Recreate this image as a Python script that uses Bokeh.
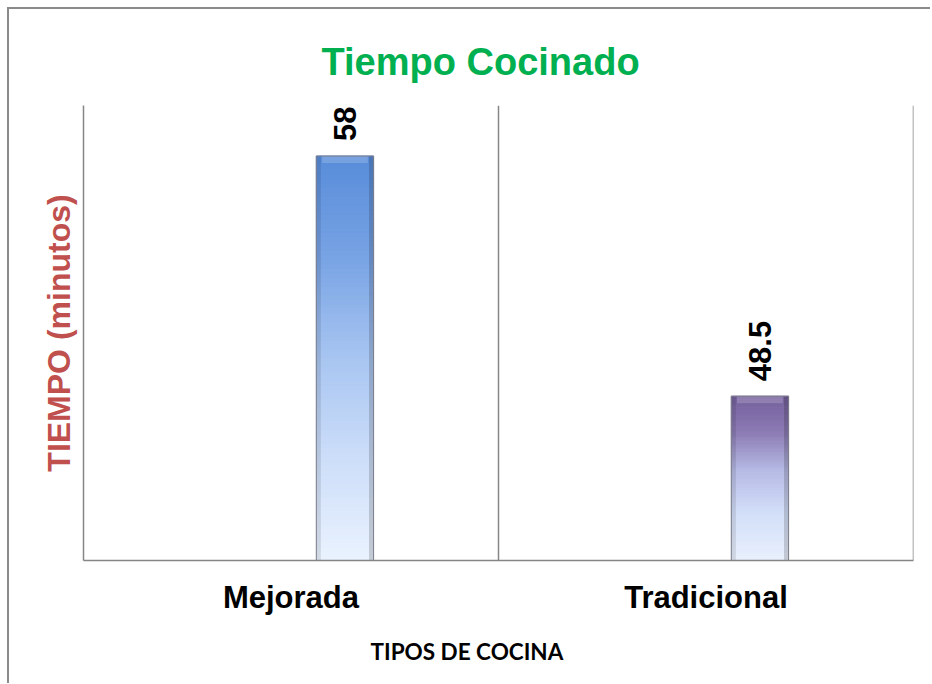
import numpy as np
from bokeh.plotting import figure
from bokeh.models import FactorRange, Range1d, ColumnDataSource, Span, Title, FixedTicker
from bokeh.transform import dodge
from bokeh.core.properties import value
from bokeh.embed import file_html
from bokeh.resources import INLINE

# ---- data ----
categories = ["Mejorada", "Tradicional"]
tiempos = [58, 48.5]
title_text = "Tiempo Cocinado"
x_title = "TIPOS DE COCINA"
y_title = "TIEMPO (minutos)"

# ---- layout / style ----
Y_MIN, Y_MAX = 42, 60
BAR_OFFSET = 0.13
BAR_WIDTH = 0.138
AXIS_GRAY = "#868686"
FRAME_H = 455
BEVEL = 7 * (Y_MAX - Y_MIN) / FRAME_H   # ~7px top highlight in data units

# gradient stops: (fraction from top of bar, rgb)
gradients = [
    [(0.0, (88, 141, 217)), (0.25, (120, 163, 228)), (0.5, (168, 197, 241)),
     (0.75, (205, 222, 249)), (1.0, (234, 242, 254))],
    [(0.0, (116, 96, 156)), (0.22, (140, 124, 180)), (0.45, (182, 186, 228)),
     (0.7, (210, 222, 248)), (1.0, (233, 240, 253))],
]


def interp(stops, f):
    for (f0, c0), (f1, c1) in zip(stops[:-1], stops[1:]):
        if f0 <= f <= f1:
            t = (f - f0) / (f1 - f0) if f1 > f0 else 0
            c = [int(round(a + (b - a) * t)) for a, b in zip(c0, c1)]
            return "#%02x%02x%02x" % tuple(c)
    return "#%02x%02x%02x" % stops[-1][1]


p = figure(
    x_range=FactorRange(*categories),
    y_range=Range1d(Y_MIN, Y_MAX),
    width=930, height=683,
    output_backend="svg", toolbar_location=None,
    min_border_left=83, min_border_right=17,
    min_border_top=105, min_border_bottom=123,
)
p.border_fill_color = None
# outer chart border on top and left (drawn as inset shadows behind the canvas)
p.styles = {"box-shadow": "inset 7px 7px 0 0 #ffffff, inset 9px 9px 0 0 #8a8a8a",
            "background-color": "#ffffff"}

# gradient segments
N = 90
seg_x, seg_b, seg_t, seg_c = [], [], [], []
for cat, v, stops in zip(categories, tiempos, gradients):
    edges = np.linspace(Y_MIN, v, N + 1)
    for i in range(N):
        f_top = 1 - (i + 0.5) / N
        seg_x.append(cat)
        seg_b.append(edges[i])
        seg_t.append(edges[i + 1])
        seg_c.append(interp(stops, f_top))
seg_src = ColumnDataSource(dict(x=seg_x, bottom=seg_b, top=seg_t, color=seg_c))
p.vbar(x=dodge("x", BAR_OFFSET, range=p.x_range), width=BAR_WIDTH,
       bottom="bottom", top="top", fill_color="color", line_color="color",
       line_width=1, source=seg_src)

bar_src = ColumnDataSource(dict(x=categories, top=tiempos,
                                bevel=[v - BEVEL for v in tiempos],
                                label=[f"{v:g}" for v in tiempos]))
# top highlight (bevel)
p.vbar(x=dodge("x", BAR_OFFSET, range=p.x_range), width=BAR_WIDTH * 0.8,
       bottom="bevel", top="top", fill_color="#ffffff", fill_alpha=0.18,
       line_color=None, source=bar_src)
# side shading (bevel)
SIDE_W = 0.011
p.vbar(x=dodge("x", BAR_OFFSET - BAR_WIDTH / 2 + SIDE_W / 2, range=p.x_range),
       width=SIDE_W, bottom=Y_MIN, top="top", fill_color="#000000",
       fill_alpha=0.10, line_color=None, source=bar_src)
p.vbar(x=dodge("x", BAR_OFFSET + BAR_WIDTH / 2 - SIDE_W / 2, range=p.x_range),
       width=SIDE_W, bottom=Y_MIN, top="top", fill_color="#000000",
       fill_alpha=0.16, line_color=None, source=bar_src)
# outline
p.vbar(x=dodge("x", BAR_OFFSET, range=p.x_range), width=BAR_WIDTH,
       bottom=Y_MIN, top="top", fill_alpha=0, line_color="#7c7c88",
       line_width=1, source=bar_src)

# value labels
p.text(x=dodge("x", BAR_OFFSET, range=p.x_range), y="top", text="label",
       angle=np.pi / 2, text_align="left", text_baseline="middle",
       y_offset=-15, text_font=value("Liberation Sans"),
       text_font_style="bold", text_font_size="31px", text_color="black",
       source=bar_src)

# category separators
for loc in (1, 2):
    p.add_layout(Span(location=loc, dimension="height",
                      line_color=AXIS_GRAY, line_width=1.5))

# title
p.title.text = title_text
p.title.align = "left"
p.title.offset = 238
p.title.standoff = 45
p.title.text_font = "Liberation Sans"
p.title.text_font_style = "bold"
p.title.text_font_size = "38px"
p.title.text_color = "#00B050"

# x axis title placed below the axis
p.add_layout(Title(text=x_title, align="left", offset=287, standoff=37,
                   text_font="Lato", text_font_style="bold",
                   text_font_size="22.5px", text_color="black"), "below")

# axes
p.xgrid.grid_line_color = None
p.ygrid.grid_line_color = None
p.outline_line_color = None

p.yaxis.ticker = FixedTicker(ticks=[])
p.yaxis.axis_label = y_title
p.yaxis.axis_label_text_font = "Liberation Sans"
p.yaxis.axis_label_text_font_style = "bold"
p.yaxis.axis_label_text_font_size = "32px"
p.yaxis.axis_label_text_color = "#C0504D"
p.yaxis.axis_label_standoff = 7
p.yaxis.major_tick_line_color = None
p.yaxis.minor_tick_line_color = None
p.yaxis.axis_line_color = AXIS_GRAY
p.yaxis.axis_line_width = 1.5

p.xaxis.major_label_text_font = "Liberation Sans"
p.xaxis.major_label_text_font_style = "bold"
p.xaxis.major_label_text_font_size = "31px"
p.xaxis.major_label_text_color = "black"
p.xaxis.major_label_standoff = 13
p.xaxis.major_tick_line_color = None
p.xaxis.axis_line_color = AXIS_GRAY
p.xaxis.axis_line_width = 1.5

open("out.html", "w").write(file_html(p, INLINE))
